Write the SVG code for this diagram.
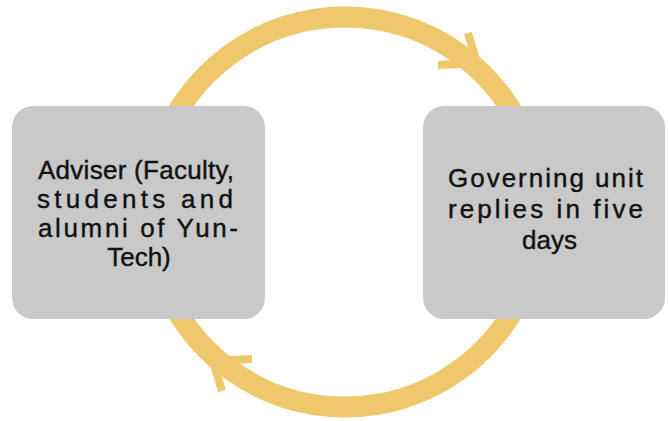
<svg xmlns="http://www.w3.org/2000/svg" width="668" height="421" viewBox="0 0 668 421">
<style>
.arc{fill:none;stroke:#EFC76C;stroke-width:21}
.head{fill:none;stroke:#EFC76C;stroke-width:8;stroke-linejoin:miter}
.box{fill:#C9C9C9}
.t{font-family:"Liberation Sans",Arial,sans-serif;font-size:26px;fill:#111;stroke:#111;stroke-width:0.4}
</style>
<rect width="668" height="421" fill="#FFFFFF"/>
<g id="connectors">
<path class="arc" d="M160.1,150 A195,195 0 0 1 529.9,150"/>
<path class="head" d="M468,33 L477,63 L438,65"/>
<path class="arc" d="M529.9,274 A195,195 0 0 1 160.1,274"/>
<path class="head" d="M222,391 L213,361 L252,359"/>
</g>
<g id="adviser">
<rect class="box" x="12" y="106" width="253" height="213" rx="21"/>
<text class="t" x="38" y="179" textLength="196" lengthAdjust="spacing">Adviser (Faculty,</text>
<text class="t" x="37" y="208" textLength="196" lengthAdjust="spacing">students and</text>
<text class="t" x="38" y="237" textLength="200" lengthAdjust="spacing">alumni of Yun-</text>
<text class="t" x="139" y="266" text-anchor="middle">Tech)</text>
</g>
<g id="governing">
<rect class="box" x="423" y="106" width="242" height="213" rx="21"/>
<text class="t" x="448" y="187" textLength="195" lengthAdjust="spacing">Governing unit</text>
<text class="t" x="448" y="218" textLength="195" lengthAdjust="spacing">replies in five</text>
<text class="t" x="549.5" y="249" text-anchor="middle">days</text>
</g>
</svg>
